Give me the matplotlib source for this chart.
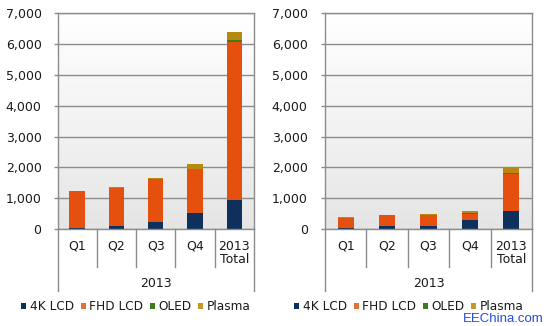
import matplotlib
matplotlib.use("Agg")
import matplotlib.pyplot as plt
import numpy as np
from matplotlib.patches import Patch
from matplotlib.transforms import blended_transform_factory

# Categories and series values (units shipped, thousands)
categories = ["Q1", "Q2", "Q3", "Q4", "2013\nTotal"]
group_label = "2013"
series_names = ["4K LCD", "FHD LCD", "OLED", "Plasma"]
yticks = [0, 1000, 2000, 3000, 4000, 5000, 6000, 7000]

# Left panel
k4_left = [50, 110, 240, 520, 930]
fhd_left = [1170, 1225, 1375, 1420, 5140]
oled_left = [0, 0, 0, 10, 60]
plasma_left = [30, 30, 40, 150, 250]

# Right panel
k4_right = [40, 100, 110, 290, 600]
fhd_right = [330, 350, 340, 200, 1190]
oled_right = [0, 0, 0, 30, 20]
plasma_right = [15, 20, 30, 60, 200]

colors = ["#0F2F5C", "#E5500F", "#3E7A1E", "#B8890F"]
legend_colors = ["#0F2F5C", "#E0703E", "#3E7A1E", "#C49A22"]
grid_col = "#8C8C8C"
text_col = "#1A1A1A"

plt.rcParams["font.family"] = ["DejaVu Sans"]

fig = plt.figure(figsize=(5.46, 3.26), dpi=100)
fig.patch.set_facecolor("white")

H = 326.0
W = 546.0


def make_axes(x0, x1, top, bottom):
    return fig.add_axes([x0 / W, (H - bottom) / H, (x1 - x0) / W, (bottom - top) / H])


def draw_panel(ax, series, label_pad):
    x = np.arange(len(categories))
    ax.set_xlim(-0.5, len(categories) - 0.5)
    ax.set_ylim(0, 7000)
    ax.set_facecolor("none")

    # Soft vertical gradient behind the plot area
    grad = np.linspace(0, 1, 256).reshape(-1, 1)
    cmap = matplotlib.colors.LinearSegmentedColormap.from_list(
        "bg", ["#E5E5E5", "#F3F3F3", "#FFFFFF"])
    ax.imshow(grad, aspect="auto", cmap=cmap, origin="lower",
              extent=[0, 1, 0, 1], transform=ax.transAxes, zorder=0)

    for yv in yticks:
        ax.axhline(yv, color=grid_col, lw=1.0, zorder=1)

    bottom = np.zeros(len(categories))
    for vals, col in zip(series, colors):
        vals = np.asarray(vals, dtype=float)
        ax.bar(x, vals, width=0.39, bottom=bottom, color=col, zorder=2,
               linewidth=0)
        bottom += vals

    ax.set_yticks(yticks)
    ax.set_yticklabels([f"{v:,}" for v in yticks])
    ax.tick_params(axis="y", length=3, width=1, color=grid_col,
                   pad=label_pad, labelsize=9, labelcolor=text_col)
    ax.set_xticks(x)
    ax.set_xticklabels(categories, linespacing=1.05)
    ax.tick_params(axis="x", length=0, pad=7.5, labelsize=9,
                   labelcolor=text_col)

    for side in ["left", "right", "top", "bottom"]:
        ax.spines[side].set_color(grid_col)
        ax.spines[side].set_linewidth(1.0)

    # Category separators and outer edges of the grouped axis
    tr = blended_transform_factory(ax.transData, ax.transAxes)
    for b in np.arange(0.5, len(categories) - 0.5, 1.0):
        ax.plot([b, b], [0, -0.176], transform=tr, color=grid_col,
                lw=1.0, clip_on=False, zorder=3)
    for b in [-0.5, len(categories) - 0.5]:
        ax.plot([b, b], [0, -0.285], transform=tr, color=grid_col,
                lw=1.0, clip_on=False, zorder=3)
    ax.text(0.5, -0.25, group_label, transform=ax.transAxes, ha="center",
            va="center", fontsize=9, color=text_col)


ax1 = make_axes(57.5, 254, 13.3, 229.1)
draw_panel(ax1, [k4_left, fhd_left, oled_left, plasma_left], 8.5)

ax2 = make_axes(325, 532, 13.3, 229.1)
draw_panel(ax2, [k4_right, fhd_right, oled_right, plasma_right], 9.5)

handles = [Patch(facecolor=c, edgecolor="none") for c in legend_colors]
for cx in [136 / W, 409 / W]:
    fig.legend(handles, series_names, loc="center", ncol=4,
               bbox_to_anchor=(cx, (H - 307) / H), frameon=False,
               fontsize=8.7, handlelength=0.42, handleheight=0.42,
               handletextpad=0.3, columnspacing=0.55, borderpad=0,
               borderaxespad=0, labelcolor=text_col)

fig.text(503 / W, (H - 319) / H, "EEChina.com", ha="center", va="center",
         fontsize=9.5, color="#2050E0", family="Liberation Sans")

fig.savefig("out.png", dpi=100)
